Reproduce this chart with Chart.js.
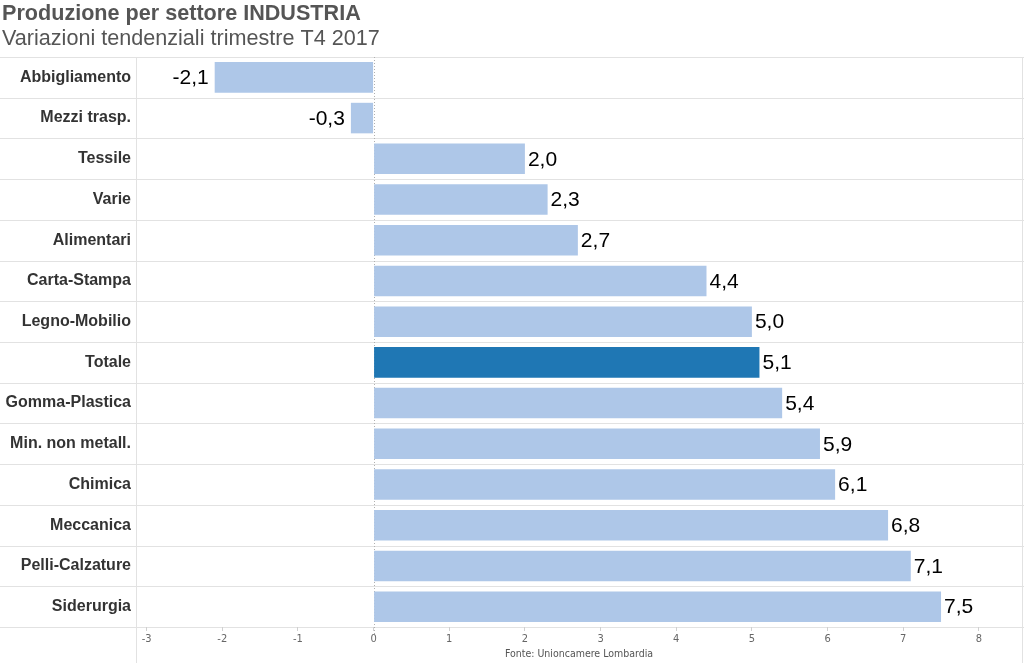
<!DOCTYPE html>
<html lang="it">
<head>
    <meta charset="UTF-8">
    <title>Produzione per settore INDUSTRIA</title>
    <style>
        * {
            margin: 0;
            padding: 0;
            box-sizing: border-box;
        }

        body {
            background-color: #ffffff;
        }

        .chart-box {
            width: 1024px;
            height: 663px;
        }
    </style>
</head>
<body>

<div class="chart-box">
    <canvas id="prodChart" width="1024" height="663"></canvas>
</div>

<script src="https://cdn.jsdelivr.net/npm/chart.js"></script>
<script>
    // Dati
    const settori = ['Abbigliamento', 'Mezzi trasp.', 'Tessile', 'Varie', 'Alimentari', 'Carta-Stampa',
        'Legno-Mobilio', 'Totale', 'Gomma-Plastica', 'Min. non metall.', 'Chimica', 'Meccanica',
        'Pelli-Calzature', 'Siderurgia'];
    const variazioni = [-2.1, -0.3, 2.0, 2.3, 2.7, 4.4, 5.0, 5.1, 5.4, 5.9, 6.1, 6.8, 7.1, 7.5];
    const xTicks = [-3, -2, -1, 0, 1, 2, 3, 4, 5, 6, 7, 8];

    const titolo = 'Produzione per settore INDUSTRIA';
    const sottotitolo = 'Variazioni tendenziali trimestre T4 2017';
    const fonte = 'Fonte: Unioncamere Lombardia';

    const lineColor = '#e2e2e2';

    // Titoli, griglia a righe e etichette dei valori
    const tablePlugin = {
        id: 'tablePlugin',
        beforeDraw(chart) {
            const ctx = chart.ctx;
            const area = chart.chartArea;
            const yScale = chart.scales.y;
            const xScale = chart.scales.x;
            const W = chart.width;

            ctx.save();
            ctx.fillStyle = '#555555';
            ctx.textBaseline = 'alphabetic';
            ctx.textAlign = 'left';
            ctx.font = 'bold 21.6px "Liberation Sans", Arial, sans-serif';
            ctx.fillText(titolo, 2, 20);
            ctx.font = '21.6px "Liberation Sans", Arial, sans-serif';
            ctx.fillText(sottotitolo, 2, 45);

            // linee orizzontali tra le righe
            ctx.strokeStyle = lineColor;
            ctx.lineWidth = 1;
            const step = yScale.getPixelForValue(1) - yScale.getPixelForValue(0);
            for (let i = 0; i <= settori.length; i++) {
                const y = Math.round(yScale.getPixelForValue(i) - step / 2) + 0.5;
                ctx.beginPath();
                ctx.moveTo(0, y);
                ctx.lineTo(W, y);
                ctx.stroke();
            }

            // bordi verticali
            ctx.beginPath();
            ctx.moveTo(Math.round(area.left) + 0.5, area.top);
            ctx.lineTo(Math.round(area.left) + 0.5, chart.height);
            ctx.moveTo(Math.round(area.right) + 0.5, area.top);
            ctx.lineTo(Math.round(area.right) + 0.5, chart.height);
            ctx.stroke();

            // linea dello zero
            const x0 = Math.round(xScale.getPixelForValue(0)) + 0.5;
            ctx.strokeStyle = '#b0b0b0';
            ctx.setLineDash([1, 2]);
            ctx.beginPath();
            ctx.moveTo(x0, area.top);
            ctx.lineTo(x0, area.bottom + 8);
            ctx.stroke();
            ctx.restore();
        },
        afterDatasetsDraw(chart) {
            const ctx = chart.ctx;
            const meta = chart.getDatasetMeta(0);
            ctx.save();
            ctx.font = '21px "Liberation Sans", Arial, sans-serif';
            ctx.fillStyle = '#000000';
            ctx.textBaseline = 'middle';
            meta.data.forEach((bar, i) => {
                const v = variazioni[i];
                const txt = v.toFixed(1).replace('.', ',');
                if (v < 0) {
                    ctx.textAlign = 'right';
                    ctx.fillText(txt, bar.x - 6, bar.y + 1);
                } else {
                    ctx.textAlign = 'left';
                    ctx.fillText(txt, bar.x + 3, bar.y + 1);
                }
            });
            ctx.restore();
        }
    };

    const ctx = document.getElementById('prodChart').getContext('2d');
    const prodChart = new Chart(ctx, {
        type: 'bar',
        data: {
            labels: settori,
            datasets: [{
                data: variazioni,
                backgroundColor: settori.map(s => s === 'Totale' ? '#1f77b4' : '#aec7e8'),
                borderWidth: 0,
                barPercentage: 0.75,
                categoryPercentage: 1.0
            }]
        },
        options: {
            indexAxis: 'y',
            responsive: false,
            animation: false,
            layout: {
                padding: { top: 57, left: 0, right: 2, bottom: 0 }
            },
            plugins: {
                legend: { display: false },
                tooltip: { enabled: false }
            },
            scales: {
                x: {
                    min: -3.14,
                    max: 8.57,
                    afterFit(scale) { scale.height = 36; },
                    afterBuildTicks(scale) {
                        scale.ticks = xTicks.map(v => ({ value: v }));
                    },
                    grid: {
                        drawOnChartArea: false,
                        drawTicks: true,
                        tickLength: 4,
                        tickColor: '#d0d0d0'
                    },
                    border: { display: false },
                    ticks: {
                        maxRotation: 0,
                        padding: 2,
                        color: '#666666',
                        font: { family: '"Liberation Sans Narrow", "DejaVu Sans Condensed", sans-serif', size: 11 }
                    },
                    title: {
                        display: true,
                        text: fonte,
                        color: '#555555',
                        padding: { top: 0, bottom: 2 },
                        font: { family: '"Liberation Sans Narrow", "DejaVu Sans Condensed", sans-serif', size: 10.5 }
                    }
                },
                y: {
                    afterFit(scale) { scale.width = 136; },
                    grid: { display: false },
                    border: { display: false },
                    ticks: {
                        padding: -3,
                        color: '#333333',
                        font: { family: '"Liberation Sans", Arial, sans-serif', size: 16, weight: 'bold' }
                    }
                }
            }
        },
        plugins: [tablePlugin]
    });
</script>

</body>
</html>
